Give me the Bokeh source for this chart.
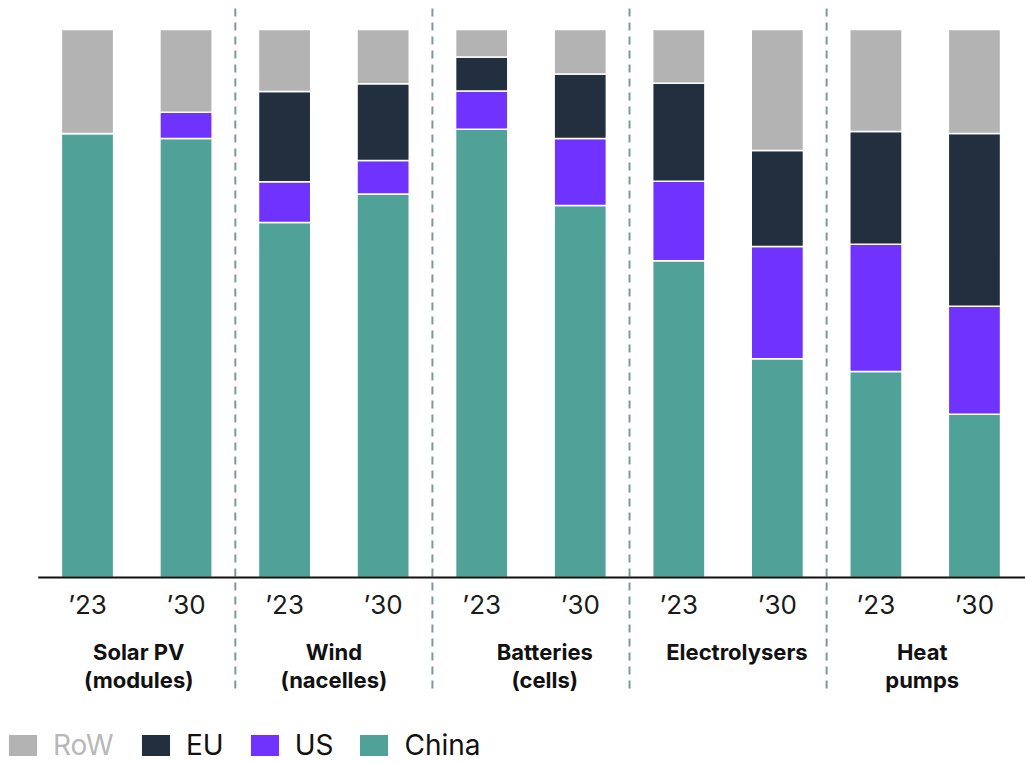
from bokeh.plotting import figure
from bokeh.models import ColumnDataSource, Legend, LegendItem, Range1d
from bokeh.core.properties import value
from bokeh.embed import file_html
from bokeh.resources import INLINE

# ---- data (shares of manufacturing capacity, %) ----
groups = ["Solar PV\n(modules)", "Wind\n(nacelles)", "Batteries\n(cells)", "Electrolysers", "Heat\npumps"]
years = ["\u201923", "\u201930"]
china = [81.0, 80.1, 64.8, 70.0, 81.8, 67.9, 57.8, 39.9, 37.6, 29.8]
us    = [0.0, 4.8, 7.4, 6.1, 7.0, 12.2, 14.5, 20.5, 23.2, 19.7]
eu    = [0.0, 0.0, 16.5, 14.0, 6.2, 11.8, 17.9, 17.5, 20.6, 31.5]
row   = [19.0, 15.1, 11.3, 9.9, 5.0, 8.1, 9.8, 22.1, 18.6, 19.0]
series = ["China", "US", "EU", "RoW"]
colors = ["#50a197", "#7033ff", "#212f3f", "#b3b3b3"]

W, H = 1025, 762
FONT = "Inter"

n = len(china)
xs = list(range(n))
src = ColumnDataSource(dict(x=xs, China=china, US=us, EU=eu, RoW=row))

# pixel geometry -> data ranges
base_px = 577.0
top_px = 29.0
ppu = (base_px - top_px) / 100.0
x0_px, step_px = 87.0, 98.55

p = figure(width=W, height=H, output_backend="svg", toolbar_location=None,
           min_border=0, outline_line_color=None,
           x_range=Range1d(-x0_px / step_px, (W - x0_px) / step_px),
           y_range=Range1d(-(H - base_px) / ppu, base_px / ppu))
p.axis.visible = False
p.grid.visible = False
p.background_fill_color = "white"
p.border_fill_color = "white"

def ydat(px):
    return (base_px - px) / ppu

renderers = p.vbar_stack(series, x="x", width=0.53, source=src, color=colors,
                         line_color="white", line_width=1.5)

# group separators
sep_x = [2 * g + 1.5 for g in range(len(groups) - 1)]
p.segment(x0=sep_x, x1=sep_x, y0=[ydat(8)] * len(sep_x), y1=[ydat(690)] * len(sep_x),
          line_color="#7f989b", line_width=2, line_dash="8 6")

# baseline axis
p.segment(x0=[-0.5], x1=[(W - x0_px) / step_px], y0=[0], y1=[0],
          line_color="#111111", line_width=2)

# tick labels
tick_text = [years[i % 2] for i in range(n)]
p.text(x=xs, y=[ydat(604)] * n, text=tick_text, text_align="center",
       text_baseline="alphabetic", text_font=value(FONT), text_font_size="26px",
       text_color="#1a1a1a")

# group labels (two lines)
gx = [2 * g + 0.5 for g in range(len(groups))]
nudge = [0.02, 0.0, 0.14, 0.09, -0.03]
gx = [a + b for a, b in zip(gx, nudge)]
line1 = [g.split("\n")[0] for g in groups]
line2 = [g.split("\n")[1] if "\n" in g else "" for g in groups]
for txt, ypx in ((line1, 651), (line2, 679)):
    p.text(x=gx, y=[ydat(ypx)] * len(gx), text=txt, text_align="center",
           text_baseline="alphabetic", text_font=value(FONT), text_font_size="22px",
           text_font_style="bold", text_color="#111111")

# legends
common = dict(orientation="horizontal", padding=0, margin=0, border_line_color=None,
              background_fill_alpha=0, glyph_width=37, glyph_height=28,
              label_standoff=12, spacing=22, label_text_font=FONT,
              label_text_font_size="28px", label_height=28)
leg1 = Legend(items=[LegendItem(label="RoW", renderers=[renderers[3]])],
              location=(4, 0), label_text_color="#b8b8b8", **common)
leg2 = Legend(items=[LegendItem(label="EU", renderers=[renderers[2]]),
                     LegendItem(label="US", renderers=[renderers[1]]),
                     LegendItem(label="China", renderers=[renderers[0]])],
              location=(137, 0), label_text_color="#111111", **common)
p.add_layout(leg1)
p.add_layout(leg2)

open("out.html", "w").write(file_html(p, INLINE))
